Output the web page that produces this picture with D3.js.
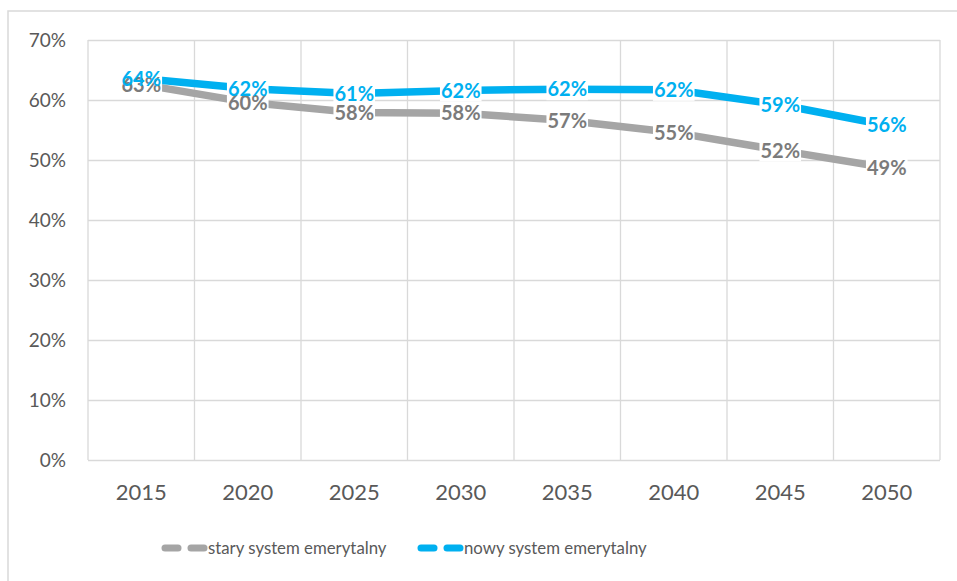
<!DOCTYPE html>
<html>
<head>
<meta charset="utf-8">
<script src="https://cdn.jsdelivr.net/npm/d3@7"></script>
<style>
  body { margin: 0; background: #fff; }
  svg { display: block; font-family: Lato, "Open Sans", sans-serif; }
</style>
</head>
<body>
<div id="chart"></div>
<script>
(function () {
    const years = ["2015", "2020", "2025", "2030", "2035", "2040", "2045", "2050"]
    const staryValues = [0.626, 0.596, 0.579, 0.578, 0.566, 0.546, 0.516, 0.487]
    const nowyValues = [0.636, 0.619, 0.611, 0.616, 0.618, 0.617, 0.592, 0.558]
    const yTicks = [0, 0.1, 0.2, 0.3, 0.4, 0.5, 0.6, 0.7]
    const seriesNames = ["stary system emerytalny", "nowy system emerytalny"]

    const W = 957, H = 581
    const margin = { top: 40, right: 17, bottom: 121, left: 88 }
    const width = W - margin.left - margin.right,
        height = H - margin.top - margin.bottom

    const grey = "#a5a5a5", blue = "#00b0f0"

    const series = [
        { name: seriesNames[0], values: staryValues, color: grey, text: "#7b7b7b" },
        { name: seriesNames[1], values: nowyValues, color: blue, text: blue }
    ]

    const root = d3.select("#chart").append("svg")
        .attr("width", W)
        .attr("height", H)

    root.append("rect").attr("width", W).attr("height", H).attr("fill", "#fff")

    // outer frame (only left and top visible in the picture)
    root.append("path")
        .attr("d", "M8," + H + "V11H" + W)
        .attr("fill", "none")
        .attr("stroke", "#d9d9d9")
        .attr("stroke-width", 1.5)

    const svg = root.append("g")
        .attr("transform", "translate(" + margin.left + "," + margin.top + ")")

    const x = d3.scaleBand().domain(years).range([0, width]).padding(0)
    const y = d3.scaleLinear().domain([0, 0.7]).range([height, 0])
    const fmt = d3.format(".0%")

    // horizontal grid + y labels
    const yAxis = d3.axisLeft(y).tickValues(yTicks).tickFormat(fmt).tickSize(-width).tickPadding(22)
    svg.append("g")
        .attr("class", "axis y-axis")
        .call(yAxis)
        .call(g => g.select(".domain").remove())
        .call(g => g.selectAll("line").attr("stroke", "#d9d9d9").attr("stroke-width", 1.3))
        .call(g => g.selectAll("text").attr("fill", "#595959").style("font-size", "19px")
            .style("font-family", "Lato, sans-serif"))

    // vertical grid at category edges
    const edges = years.map(d => x(d)).concat([width])
    svg.append("g")
        .selectAll("line")
        .data(edges)
        .join("line")
        .attr("x1", d => d).attr("x2", d => d)
        .attr("y1", 0).attr("y2", height)
        .attr("stroke", "#d9d9d9")
        .attr("stroke-width", 1.3)

    // x labels
    const xAxis = d3.axisBottom(x).tickSize(0).tickPadding(24)
    svg.append("g")
        .attr("class", "axis x-axis")
        .attr("transform", "translate(0," + height + ")")
        .call(xAxis)
        .call(g => g.select(".domain").remove())
        .call(g => g.selectAll("text").attr("fill", "#595959").style("font-size", "22px")
            .style("font-family", "Lato, sans-serif"))

    const cx = d => x(d) + x.bandwidth() / 2

    const line = d3.line()
        .x((d, i) => cx(years[i]))
        .y(d => y(d))

    series.forEach(s => {
        svg.append("path")
            .datum(s.values)
            .attr("fill", "none")
            .attr("stroke", s.color)
            .attr("stroke-width", 7.5)
            .attr("stroke-linejoin", "round")
            .attr("d", line)
    })

    // data labels: white boxes first, then all texts
    const labels = []
    series.forEach(s => {
        s.values.forEach((v, i) => labels.push({ x: cx(years[i]), y: y(v), text: fmt(v), color: s.text }))
    })

    const boxes = svg.append("g")
    const texts = svg.append("g")
    labels.forEach(l => {
        const t = texts.append("text")
            .attr("x", l.x)
            .attr("y", l.y)
            .attr("dy", "0.36em")
            .attr("text-anchor", "middle")
            .attr("fill", l.color)
            .style("font-size", "20px")
            .style("font-weight", "bold")
            .text(l.text)
        const bb = t.node().getBBox()
        boxes.append("rect")
            .attr("x", bb.x - 1)
            .attr("y", l.y - 11)
            .attr("width", bb.width + 2)
            .attr("height", 22)
            .attr("fill", "#fff")
    })

    // legend
    const legend = root.append("g").attr("transform", "translate(0,548)")
    const legendX = [163, 419]
    series.forEach((s, i) => {
        const g = legend.append("g").attr("transform", "translate(" + legendX[i] + ",0)")
        g.append("line").attr("x1", 2).attr("x2", 15)
            .attr("stroke", s.color).attr("stroke-width", 7).attr("stroke-linecap", "round")
        g.append("line").attr("x1", 28).attr("x2", 41)
            .attr("stroke", s.color).attr("stroke-width", 7).attr("stroke-linecap", "round")
        g.append("text")
            .attr("x", 45)
            .attr("dy", "0.35em")
            .attr("fill", "#595959")
            .style("font-size", "16.8px")
            .text(s.name)
    })
})()
</script>
</body>
</html>
